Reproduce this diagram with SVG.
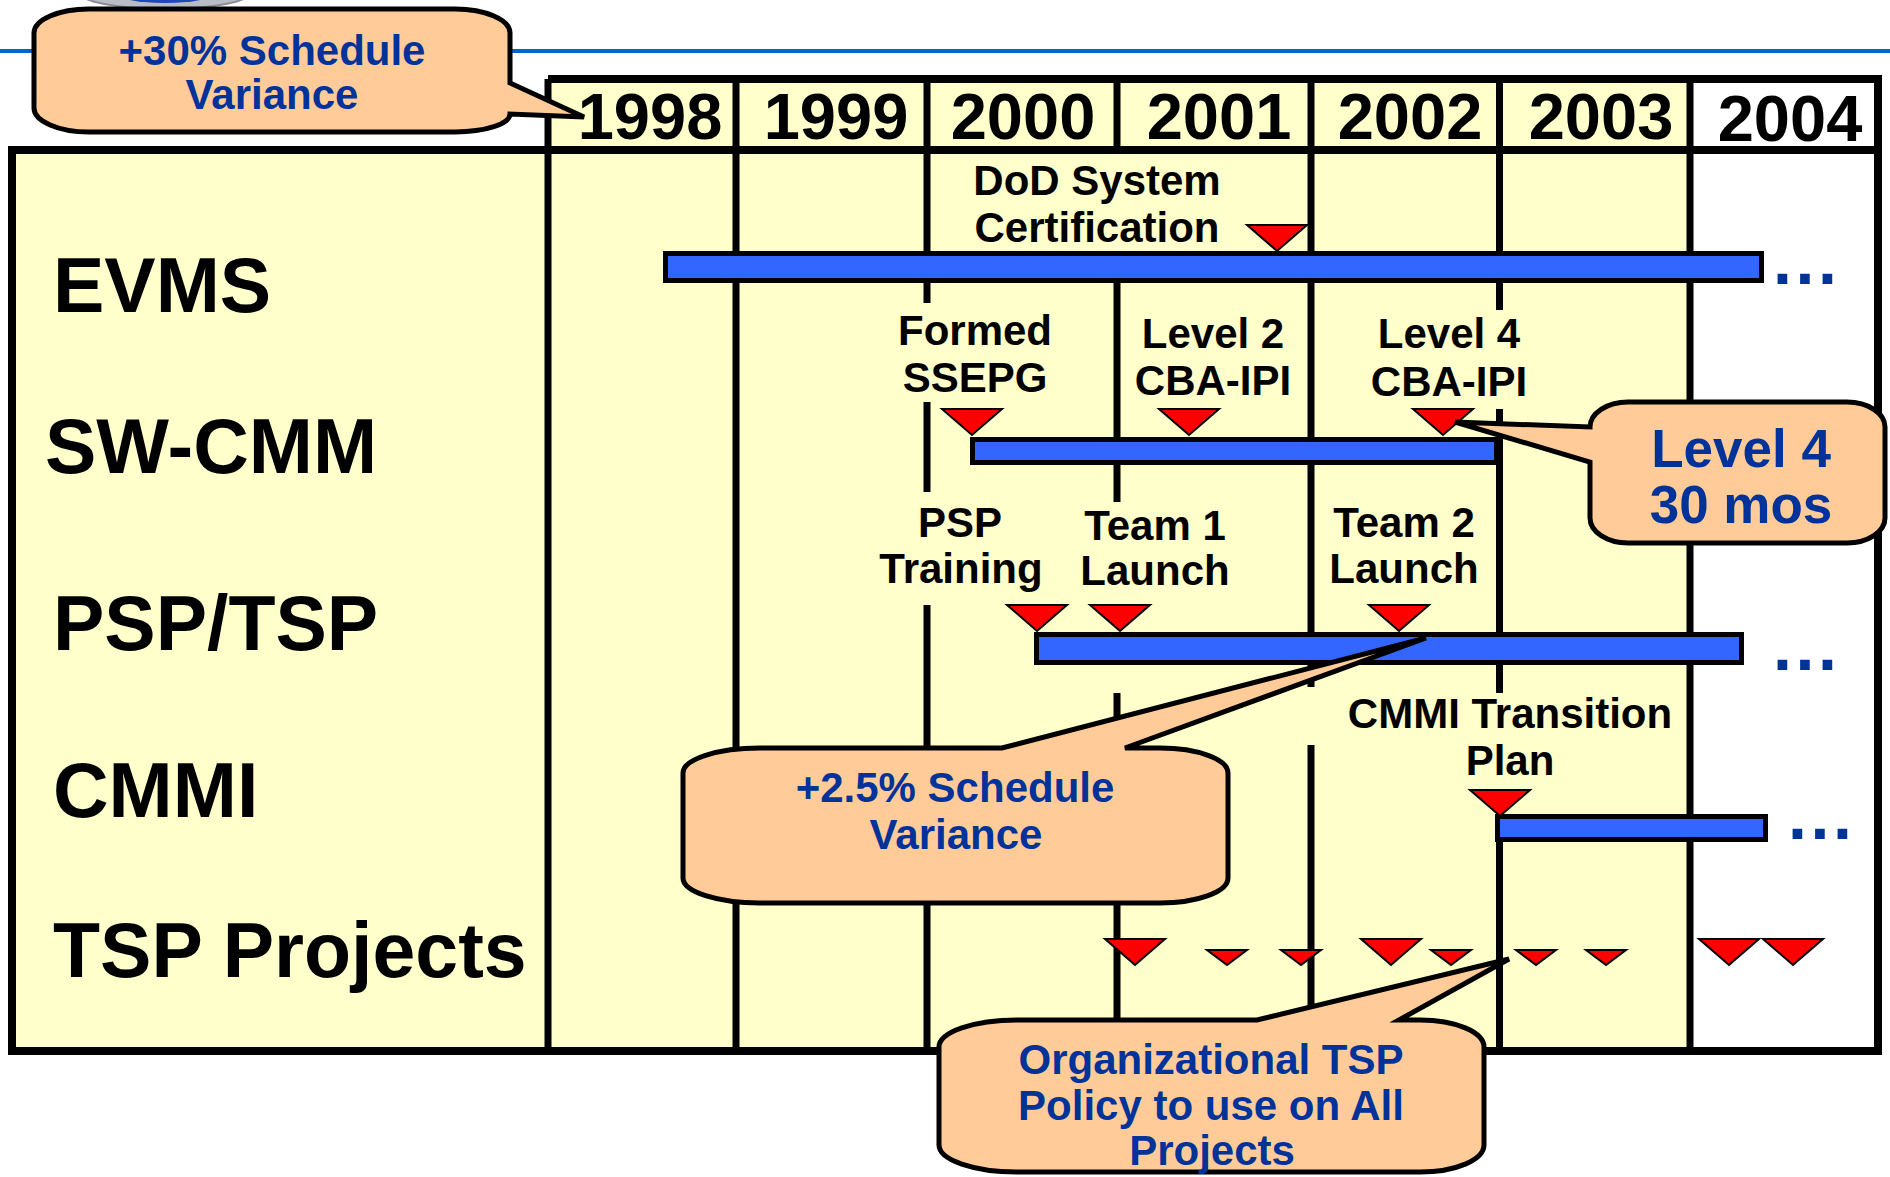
<svg xmlns="http://www.w3.org/2000/svg" width="1890" height="1177" viewBox="0 0 1890 1177">
<defs>
<style>
.grid{stroke:#000;stroke-width:7;fill:none}
.frame{stroke:#000;stroke-width:8;fill:none}
.bar{fill:#3366FF;stroke:#000;stroke-width:5}
.tri{fill:#FF0000;stroke:#000;stroke-width:2}
.callout{fill:#FFCC99;stroke:#000;stroke-width:5;stroke-linejoin:miter}
text{font-family:"Liberation Sans",Arial,Helvetica,sans-serif;font-weight:bold}
.year{font-size:65px;fill:#000;text-anchor:middle}
.row{font-size:77px;fill:#000}
.lbl{font-size:42px;fill:#000;text-anchor:middle}
.ct{font-size:42px;fill:#003399;text-anchor:middle}
.ct4{font-size:53px;fill:#003399;text-anchor:middle}
.dots{font-size:68px;fill:#003399;letter-spacing:3.6px}
</style>
<path id="triL" d="M-30,-26 L30,-26 L0,0 Z"/>
<path id="triS" d="M-20,-15 L20,-15 L0,0 Z"/>
</defs>

<g id="page">
<rect x="0" y="0" width="1890" height="1177" fill="#fff"/>
<g id="logo">
<ellipse cx="165" cy="-8" rx="86" ry="17" fill="#b9bcc4" stroke="#8a8d96" stroke-width="2"/>
<ellipse cx="165" cy="-10" rx="55" ry="13" fill="#1f47b8"/>
</g>
<line x1="0" y1="51" x2="1890" y2="51" stroke="#0066CC" stroke-width="4"/>
</g>

<g id="table">
<rect x="12" y="150" width="536" height="901" fill="#FFFFCC"/>
<rect x="548" y="79" width="1142" height="972" fill="#FFFFCC"/>
<g id="grid">
<path class="frame" d="M548,79 H1878 V1051 H12 V150 H1878"/>
<path class="grid" d="M548,79 V1051 M736,79 V1051 M927,79 V303 M927,402 V492 M927,605 V1051 M1117,79 V150 M1117,251 V437 M1117,465 V502 M1117,693 V1051 M1311,79 V687 M1311,745 V1051 M1499.5,79 V310 M1499.5,409 V693 M1499.5,790 V1051 M1690,79 V1051"/>
</g>
</g>

<g id="years">
<text class="year" x="650" y="139">1998</text>
<text class="year" x="836" y="139">1999</text>
<text class="year" x="1023" y="139">2000</text>
<text class="year" x="1219" y="139">2001</text>
<text class="year" x="1410" y="139">2002</text>
<text class="year" x="1601" y="139">2003</text>
<text class="year" x="1790" y="141">2004</text>
</g>

<g id="row-labels">
<text class="row" x="53" y="312">EVMS</text>
<text class="row" x="45" y="473">SW-CMM</text>
<text class="row" x="53" y="650">PSP/TSP</text>
<text class="row" x="53" y="817">CMMI</text>
<text class="row" x="53" y="977">TSP Projects</text>
</g>

<g id="evms">
<rect class="bar" x="665.5" y="253.5" width="1096" height="27"/>
<text class="dots" x="1773" y="284">...</text>
<g id="dod-cert">
<text class="lbl" x="1097" y="195">DoD System</text>
<text class="lbl" x="1097" y="242">Certification</text>
<use href="#triL" class="tri" x="1277" y="251"/>
</g>
</g>

<g id="swcmm">
<rect class="bar" x="972.5" y="439.5" width="524" height="23"/>
<g id="formed-ssepg">
<text class="lbl" x="975" y="345">Formed</text>
<text class="lbl" x="975" y="392">SSEPG</text>
<use href="#triL" class="tri" x="972" y="435"/>
</g>
<g id="level2">
<text class="lbl" x="1213" y="348">Level 2</text>
<text class="lbl" x="1213" y="395">CBA-IPI</text>
<use href="#triL" class="tri" x="1189" y="435"/>
</g>
<g id="level4">
<text class="lbl" x="1449" y="348">Level 4</text>
<text class="lbl" x="1449" y="396">CBA-IPI</text>
<use href="#triL" class="tri" x="1443" y="435"/>
</g>
</g>

<g id="psptsp">
<rect class="bar" x="1036.5" y="634.5" width="705" height="28"/>
<text class="dots" x="1773" y="670">...</text>
<g id="psp-training">
<text class="lbl" x="960" y="537">PSP</text>
<text class="lbl" x="961" y="583">Training</text>
<use href="#triL" class="tri" x="1037" y="631"/>
</g>
<g id="team1">
<text class="lbl" x="1155" y="540">Team 1</text>
<text class="lbl" x="1155" y="585">Launch</text>
<use href="#triL" class="tri" x="1120" y="631"/>
</g>
<g id="team2">
<text class="lbl" x="1404" y="537">Team 2</text>
<text class="lbl" x="1404" y="583">Launch</text>
<use href="#triL" class="tri" x="1399" y="631"/>
</g>
</g>

<g id="cmmi">
<rect class="bar" x="1497.5" y="816.5" width="268" height="23"/>
<text class="dots" x="1788" y="839">...</text>
<text class="lbl" x="1510" y="728">CMMI Transition</text>
<text class="lbl" x="1510" y="775">Plan</text>
<use href="#triL" class="tri" x="1500" y="816"/>
</g>

<g id="tsp-projects">
<use href="#triL" class="tri" x="1135" y="965"/>
<use href="#triS" class="tri" x="1227" y="965"/>
<use href="#triS" class="tri" x="1301" y="965"/>
<use href="#triL" class="tri" x="1391" y="965"/>
<use href="#triS" class="tri" x="1451" y="965"/>
<use href="#triS" class="tri" x="1536" y="965"/>
<use href="#triS" class="tri" x="1606" y="965"/>
<use href="#triL" class="tri" x="1729" y="965"/>
<use href="#triL" class="tri" x="1793" y="965"/>
</g>

<g id="connectors">
</g>

<g id="callout-30">
<path class="callout" d="M89,9 H455 A55 24 0 0 1 510 33 V83 L584 117 L510 114 A55 18 0 0 1 455 132 H89 A55 24 0 0 1 34 108 V33 A55 24 0 0 1 89 9 Z"/>
<text class="ct" x="272" y="65">+30% Schedule</text>
<text class="ct" x="272" y="109">Variance</text>
</g>

<g id="callout-25">
<path class="callout" d="M760,748 H1002 L1426 638 L1125 748 H1160 A68 25 0 0 1 1228 773 V878 A68 25 0 0 1 1160 903 H760 A77 25 0 0 1 683 878 V773 A77 25 0 0 1 760 748 Z"/>
<text class="ct" x="955" y="802">+2.5% Schedule</text>
<text class="ct" x="956" y="849">Variance</text>
</g>

<g id="callout-level4">
<path class="callout" d="M1628,402 H1847 A38 25 0 0 1 1885 427 V518 A38 25 0 0 1 1847 543 H1628 A38 25 0 0 1 1590 518 V462 L1455 422 L1590 427 A38 25 0 0 1 1628 402 Z"/>
<text class="ct4" x="1741" y="467">Level 4</text>
<text class="ct4" x="1741" y="523">30 mos</text>
</g>

<g id="callout-org">
<path class="callout" d="M1017,1020 H1257 L1509 959 L1399 1020 H1420 A64 27 0 0 1 1484 1047 V1145 A64 27 0 0 1 1420 1172 H1017 A78 27 0 0 1 939 1145 V1047 A78 27 0 0 1 1017 1020 Z"/>
<text class="ct" x="1211" y="1074">Organizational TSP</text>
<text class="ct" x="1211" y="1120">Policy to use on All</text>
<text class="ct" x="1212" y="1165">Projects</text>
</g>
</svg>
